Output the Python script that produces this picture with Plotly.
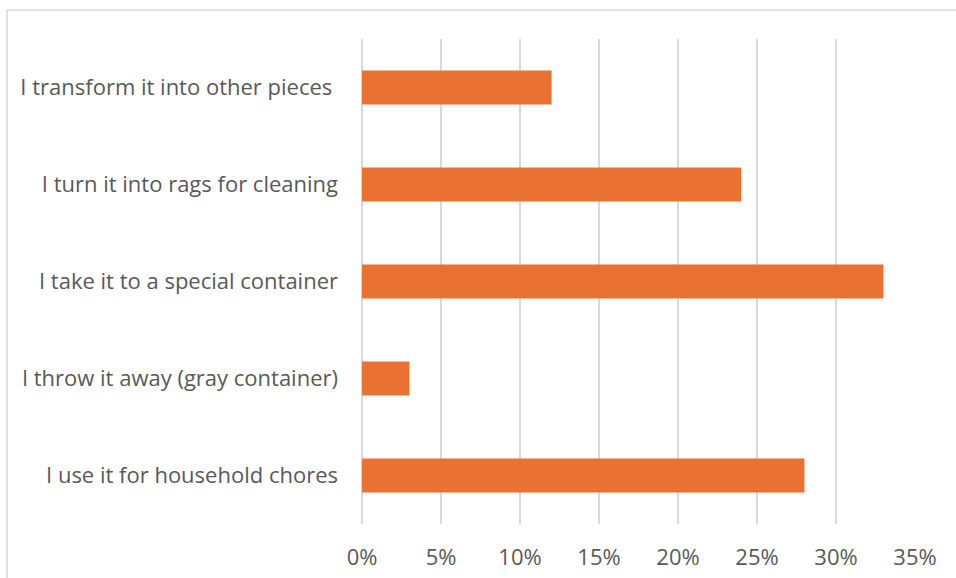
import plotly.graph_objects as go

# Responses, listed top to bottom as shown
categories = [
    "I transform it into other pieces ",
    "I turn it into rags for cleaning",
    "I take it to a special container",
    "I throw it away (gray container)",
    "I use it for household chores",
]
shares = [0.12, 0.24, 0.33, 0.03, 0.28]
tick_vals = [0, 0.05, 0.10, 0.15, 0.20, 0.25, 0.30, 0.35]
tick_text = ["0%", "5%", "10%", "15%", "20%", "25%", "30%", "35%"]

BAR_COLOR = "#E97132"
TEXT_COLOR = "#595959"
GRID_COLOR = "#D9D9D9"

fig = go.Figure(
    go.Bar(
        x=shares,
        y=categories,
        orientation="h",
        marker=dict(color=BAR_COLOR, line=dict(width=0)),
        width=0.35,
    )
)

# plot area: x 362..915, y 39..524 (553 x 485 px)
PW, PH = 553, 485
fig.update_layout(
    width=956,
    height=578,
    margin=dict(l=362, r=41, t=39, b=54),
    paper_bgcolor="white",
    plot_bgcolor="white",
    showlegend=False,
    font=dict(family="Open Sans", size=22, color=TEXT_COLOR),
    shapes=[
        dict(
            type="rect", xref="paper", yref="paper",
            x0=-355 / PW, x1=(956 - 362 + 10) / PW,
            y0=-(54 + 30) / PH, y1=(PH + 29) / PH,
            line=dict(color="#D9D9D9", width=1.5),
            fillcolor="rgba(0,0,0,0)", layer="below",
        )
    ],
)

fig.update_xaxes(
    range=[0, 0.35],
    tickvals=tick_vals,
    ticktext=tick_text,
    showgrid=True,
    gridcolor=GRID_COLOR,
    gridwidth=1.5,
    zeroline=True,
    zerolinecolor=GRID_COLOR,
    zerolinewidth=1.5,
    showline=False,
    ticks="",
    ticklabelstandoff=18,
    tickfont=dict(size=22, color=TEXT_COLOR),
    automargin=False,
)

fig.update_yaxes(
    categoryorder="array",
    categoryarray=categories[::-1],
    showgrid=False,
    showline=False,
    zeroline=False,
    ticks="",
    ticklabelstandoff=23,
    tickfont=dict(size=22, color=TEXT_COLOR),
    automargin=False,
)

fig.write_html("out.html")
